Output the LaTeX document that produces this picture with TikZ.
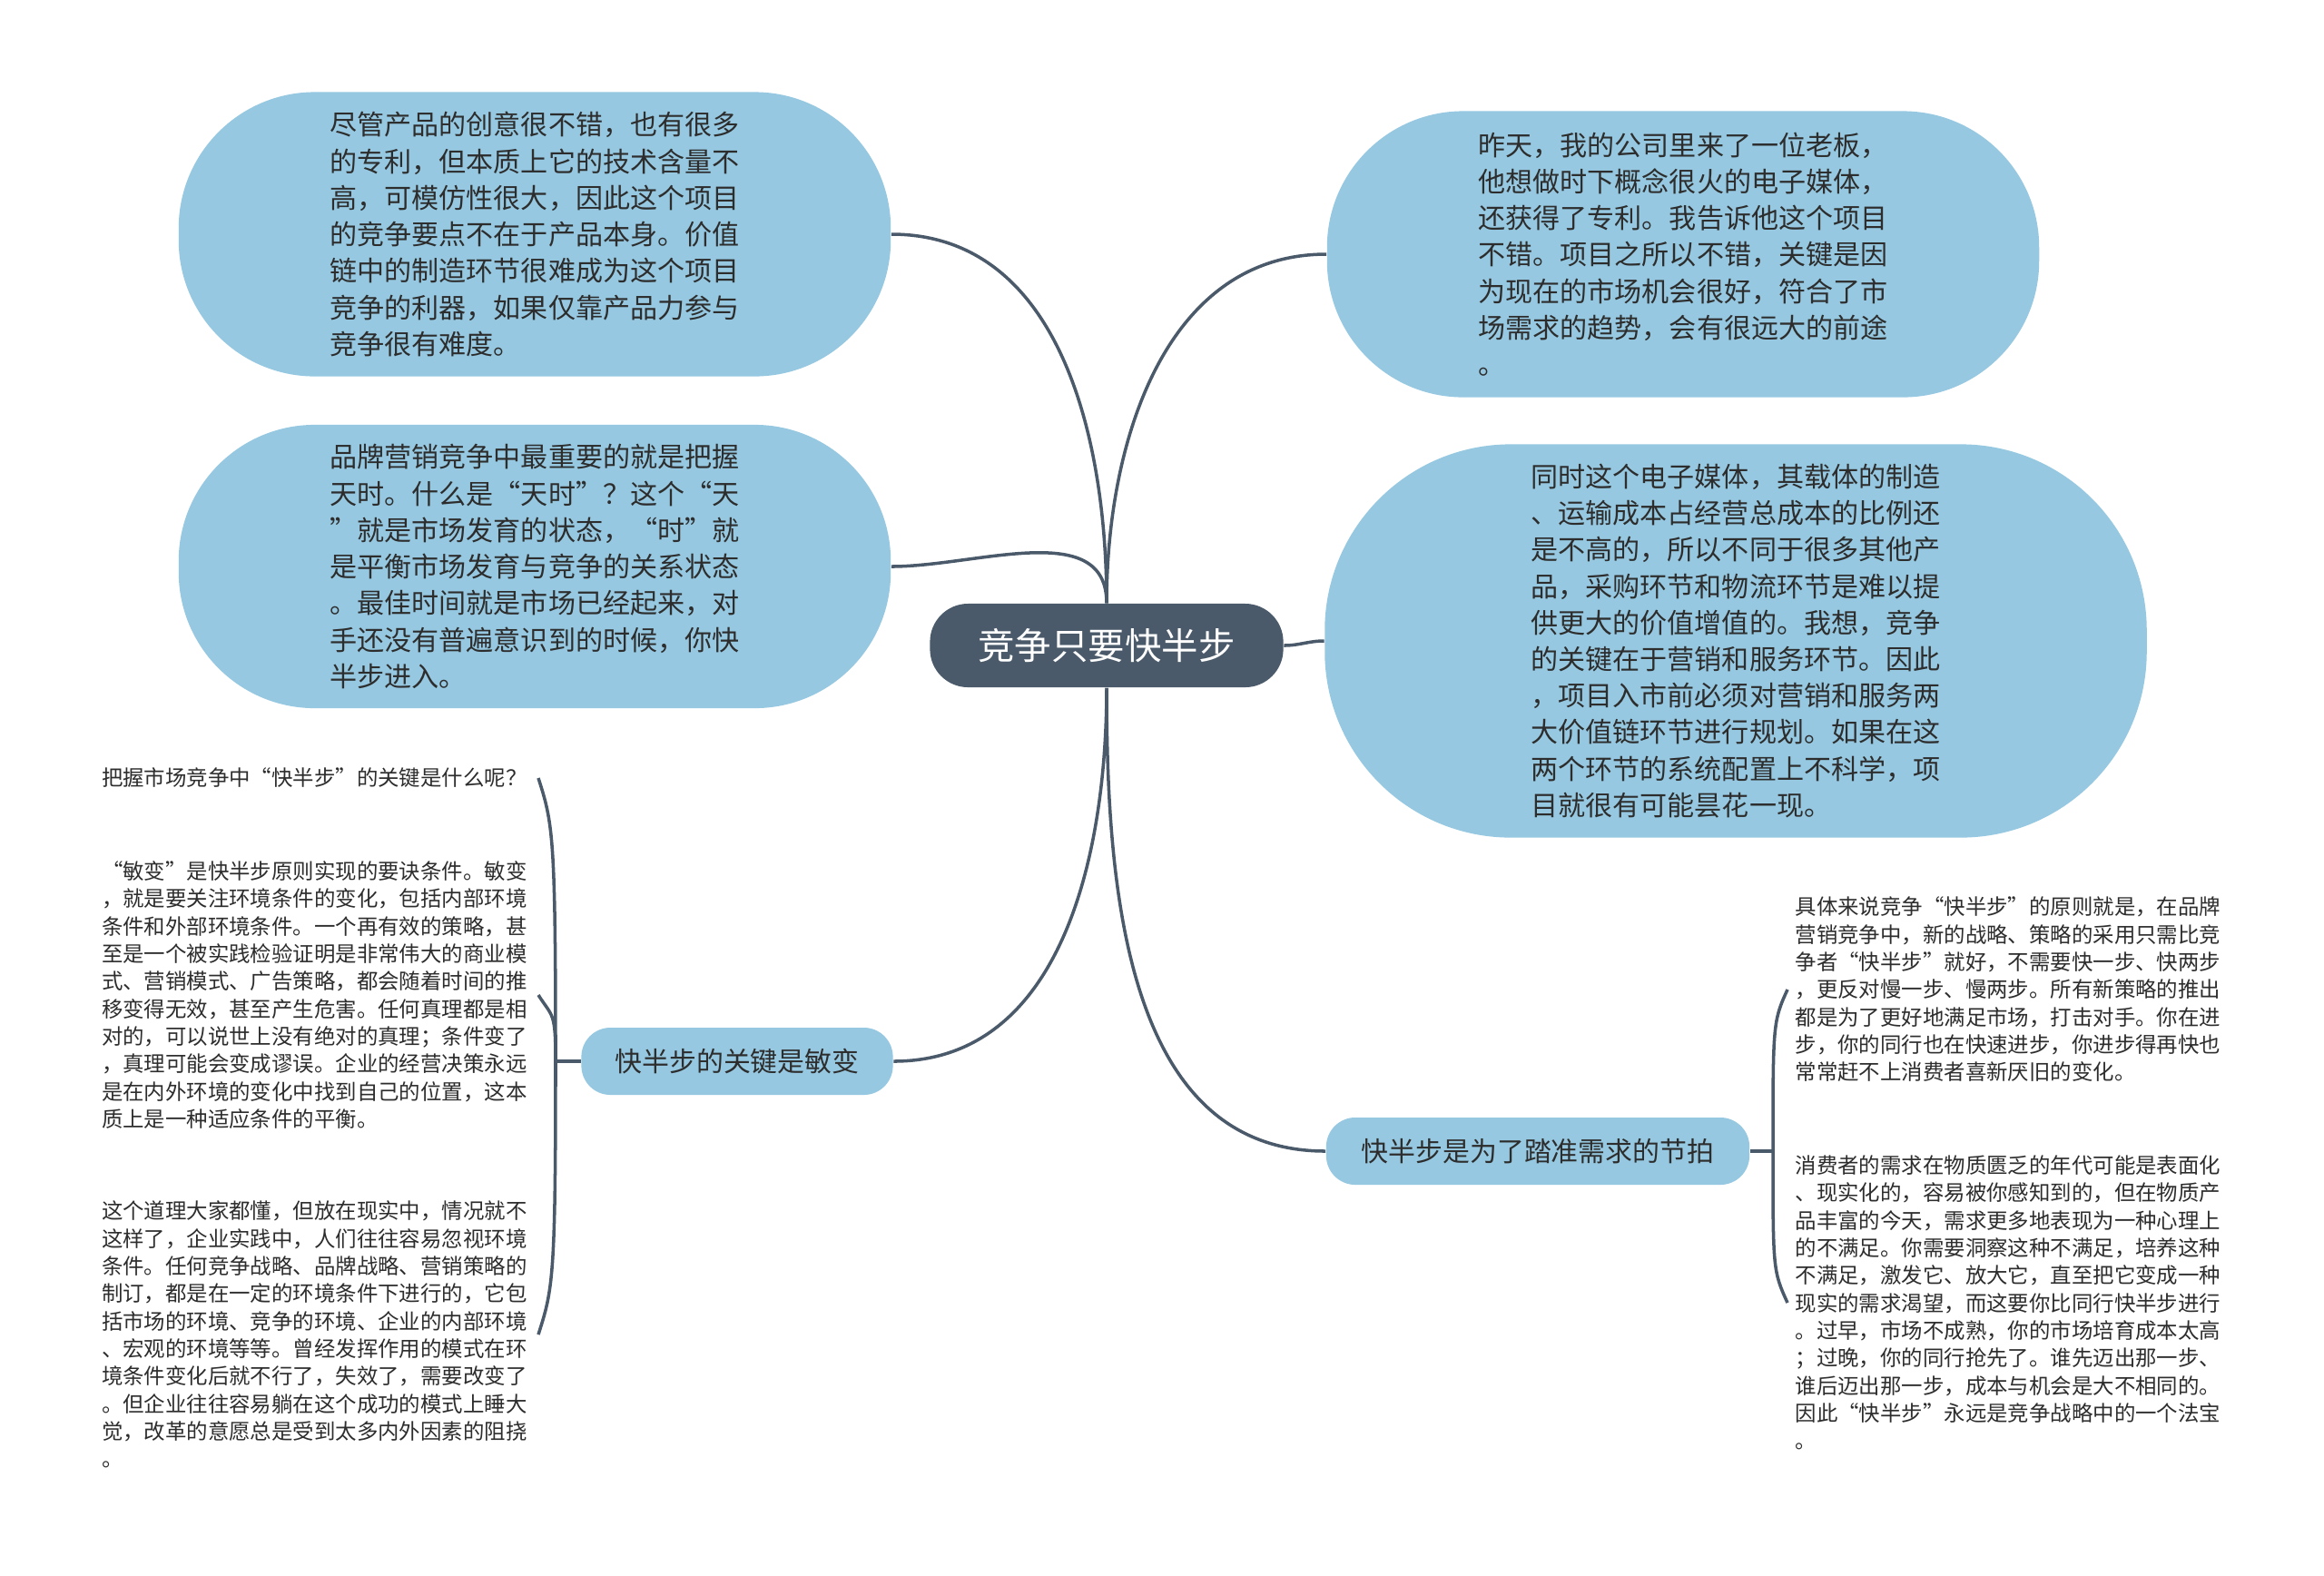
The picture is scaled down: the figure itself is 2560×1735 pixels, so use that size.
\documentclass[tikz,border=0pt]{standalone}
\usepackage{fontspec}
\setmainfont{Noto Sans CJK SC}
\usepackage{tikz}
\definecolor{bubblefill}{HTML}{96C9E1}
\definecolor{slate}{HTML}{4A5A6A}
\definecolor{inktext}{HTML}{2D2D2D}
\tikzset{
  rootbox/.style={fill=slate, text=white, rounded corners=0.42cm,
    minimum width=3.89cm, minimum height=0.92cm,
    font=\fontsize{11.5}{14}\selectfont},
  bubble/.style={fill=bubblefill, text=inktext, align=left,
    font=\fontsize{8.55}{11.44}\selectfont},
  subbox/.style={fill=bubblefill, text=inktext, rounded corners=0.32cm,
    minimum height=0.74cm, font=\fontsize{8.5}{10}\selectfont},
  leaf/.style={text=inktext, align=left, text width=4.72cm,
    inner xsep=0.08cm, inner ysep=0.05cm,
    font=\fontsize{6.66}{8.62}\selectfont},
  branch/.style={draw=slate, line width=1pt}
}

\begin{document}
\begin{tikzpicture}[x=0.01cm,y=0.01cm]
            \useasboundingbox (0,0) rectangle (2560,-1735);
            \fill[white] (0,0) rectangle (2560,-1735);

            % root and main topics
            \node[rootbox] (root) at (1219,-711) {竞争只要快半步};

            \node[bubble, minimum width=7.84cm, minimum height=3.13cm, rounded corners=1.5cm] (TL1) at (589,-258)
              {尽管产品的创意很不错，也有很多\\的专利，但本质上它的技术含量不\\高，可模仿性很大，因此这个项目\\的竞争要点不在于产品本身。价值\\链中的制造环节很难成为这个项目\\竞争的利器，如果仅靠产品力参与\\竞争很有难度。};
            \node[bubble, minimum width=7.84cm, minimum height=3.12cm, rounded corners=1.5cm] (TL2) at (589,-624)
              {品牌营销竞争中最重要的就是把握\\天时。什么是“天时”？这个“天\\”就是市场发育的状态，“时”就\\是平衡市场发育与竞争的关系状态\\。最佳时间就是市场已经起来，对\\手还没有普遍意识到的时候，你快\\半步进入。};
            \node[bubble, minimum width=7.84cm, minimum height=3.15cm, rounded corners=1.5cm] (TR1) at (1854,-280)
              {昨天，我的公司里来了一位老板，\\他想做时下概念很火的电子媒体，\\还获得了专利。我告诉他这个项目\\不错。项目之所以不错，关键是因\\为现在的市场机会很好，符合了市\\场需求的趋势，会有很远大的前途\\。};
            \node[bubble, minimum width=9.05cm, minimum height=4.33cm, rounded corners=2.05cm] (TR2) at (1912,-706)
              {同时这个电子媒体，其载体的制造\\、运输成本占经营总成本的比例还\\是不高的，所以不同于很多其他产\\品，采购环节和物流环节是难以提\\供更大的价值增值的。我想，竞争\\的关键在于营销和服务环节。因此\\，项目入市前必须对营销和服务两\\大价值链环节进行规划。如果在这\\两个环节的系统配置上不科学，项\\目就很有可能昙花一现。};

            \node[subbox, minimum width=3.43cm] (leftSub) at (812,-1169) {快半步的关键是敏变};
            \node[subbox, minimum width=4.66cm] (rightSub) at (1694,-1268) {快半步是为了踏准需求的节拍};

            % leaves of the left sub topic
            \node[leaf, anchor=east] (L1) at (593,-857) {把握市场竞争中“快半步”的关键是什么呢？};
            \node[leaf, anchor=east] (L2) at (593,-1096)
              {“敏变”是快半步原则实现的要诀条件。敏变\\，就是要关注环境条件的变化，包括内部环境\\条件和外部环境条件。一个再有效的策略，甚\\至是一个被实践检验证明是非常伟大的商业模\\式、营销模式、广告策略，都会随着时间的推\\移变得无效，甚至产生危害。任何真理都是相\\对的，可以说世上没有绝对的真理；条件变了\\，真理可能会变成谬误。企业的经营决策永远\\是在内外环境的变化中找到自己的位置，这本\\质上是一种适应条件的平衡。};
            \node[leaf, anchor=east] (L3) at (593,-1470)
              {这个道理大家都懂，但放在现实中，情况就不\\这样了，企业实践中，人们往往容易忽视环境\\条件。任何竞争战略、品牌战略、营销策略的\\制订，都是在一定的环境条件下进行的，它包\\括市场的环境、竞争的环境、企业的内部环境\\、宏观的环境等等。曾经发挥作用的模式在环\\境条件变化后就不行了，失效了，需要改变了\\。但企业往往容易躺在这个成功的模式上睡大\\觉，改革的意愿总是受到太多内外因素的阻挠\\。};

            % leaves of the right sub topic
            \node[leaf, anchor=west] (R1) at (1969,-1090)
              {具体来说竞争“快半步”的原则就是，在品牌\\营销竞争中，新的战略、策略的采用只需比竞\\争者“快半步”就好，不需要快一步、快两步\\，更反对慢一步、慢两步。所有新策略的推出\\都是为了更好地满足市场，打击对手。你在进\\步，你的同行也在快速进步，你进步得再快也\\常常赶不上消费者喜新厌旧的变化。};
            \node[leaf, anchor=west] (R2) at (1969,-1435)
              {消费者的需求在物质匮乏的年代可能是表面化\\、现实化的，容易被你感知到的，但在物质产\\品丰富的今天，需求更多地表现为一种心理上\\的不满足。你需要洞察这种不满足，培养这种\\不满足，激发它、放大它，直至把它变成一种\\现实的需求渴望，而这要你比同行快半步进行\\。过早，市场不成熟，你的市场培育成本太高\\；过晚，你的同行抢先了。谁先迈出那一步、\\谁后迈出那一步，成本与机会是大不相同的。\\因此“快半步”永远是竞争战略中的一个法宝\\。};

            % main branches
            \draw[branch] (root.north) to[out=90,in=0] (TL1.east);
            \draw[branch] (root.north) to[out=90,in=0] (TL2.east);
            \draw[branch] (root.north) to[out=90,in=180] (TR1.west);
            \draw[branch] (root.east) to[out=0,in=180] (TR2.west);
            \draw[branch] (root.south) to[out=-90,in=0] (leftSub.east);
            \draw[branch] (root.south) to[out=-90,in=180] (rightSub.west);

            % brackets to the leaves
            \coordinate (lj) at (612,-1169);
            \draw[branch] (leftSub.west) -- (lj);
            \draw[branch] (lj) .. controls +(0,250) and +(16,-50) .. (L1.east);
            \draw[branch] (lj) .. controls +(0,55) and +(16,-25) .. (L2.east);
            \draw[branch] (lj) .. controls +(0,-240) and +(16,50) .. (L3.east);

            \coordinate (rj) at (1953,-1268);
            \draw[branch] (rightSub.east) -- (rj);
            \draw[branch] (rj) .. controls +(0,140) and +(-16,-35) .. (R1.west);
            \draw[branch] (rj) .. controls +(0,-130) and +(-16,35) .. (R2.west);
\end{tikzpicture}
\end{document}
